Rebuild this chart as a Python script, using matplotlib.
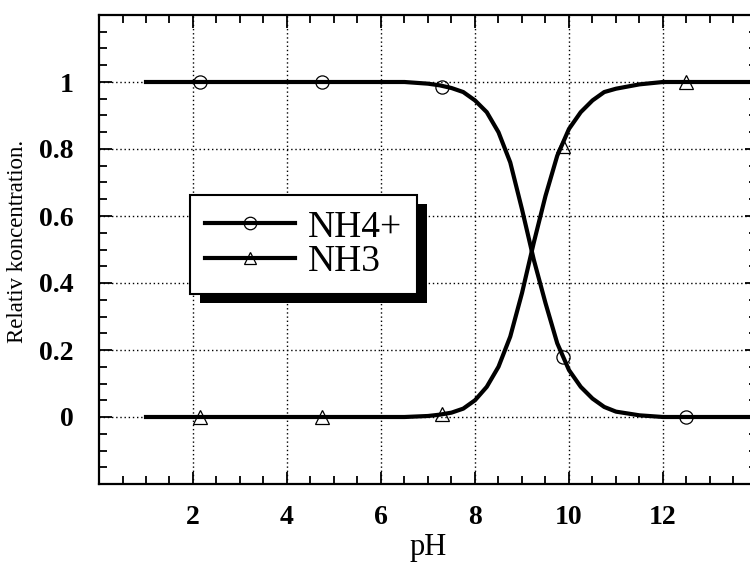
import numpy as np
import matplotlib
matplotlib.use('Agg')
import matplotlib.pyplot as plt
from matplotlib.patches import Rectangle
from matplotlib.ticker import MultipleLocator

# values
ph = [1, 2, 3, 4, 5, 6, 6.5, 7, 7.25, 7.5, 7.75, 8, 8.25, 8.5, 8.75, 9, 9.25,
      9.5, 9.75, 10, 10.25, 10.5, 10.75, 11, 11.5, 12, 13, 14]
nh4 = [1, 1, 1, 1, 1, 1, 1, 0.995, 0.99, 0.982, 0.97, 0.945, 0.91, 0.85, 0.76,
       0.62, 0.47, 0.34, 0.22, 0.14, 0.09, 0.055, 0.03, 0.016, 0.005, 0, 0, 0]
nh3 = [0, 0, 0, 0, 0, 0, 0, 0.003, 0.007, 0.013, 0.025, 0.05, 0.09, 0.15, 0.24,
       0.37, 0.52, 0.66, 0.78, 0.86, 0.91, 0.945, 0.97, 0.98, 0.993, 1, 1, 1]

marker_ph = [2.15, 4.75, 7.3, 9.87, 12.5]
marker_nh4 = [1, 1, 0.985, 0.18, 0]
marker_nh3 = [0, 0, 0.01, 0.81, 1]

serif = ['Liberation Serif', 'DejaVu Serif']

fig = plt.figure(figsize=(7.5, 5.62), dpi=100)
ax = fig.add_axes([99 / 750, 78 / 562, 658 / 750, 469 / 562])

ax.plot(ph, nh4, color='black', lw=3, zorder=3)
ax.plot(ph, nh3, color='black', lw=3, zorder=3)
ax.plot(marker_ph, marker_nh4, ls='none', marker='o', ms=9.5,
        mfc='none', mec='black', mew=0.9, zorder=4)
ax.plot(marker_ph, marker_nh3, ls='none', marker='^', ms=9.5,
        mfc='none', mec='black', mew=0.9, zorder=4)

# legend handles
h1, = ax.plot([], [], color='black', lw=3, marker='o', ms=9,
              mfc='none', mec='black', mew=0.9)
h2, = ax.plot([], [], color='black', lw=3, marker='^', ms=9,
              mfc='none', mec='black', mew=0.9)

ax.set_xlim(0, 14)
ax.set_ylim(-0.2, 1.2)
ax.xaxis.set_minor_locator(MultipleLocator(0.5))
ax.yaxis.set_minor_locator(MultipleLocator(0.05))
ax.set_xticks([2, 4, 6, 8, 10, 12])
ax.set_xticklabels(['2', '4', '6', '8', '10', '12'])
ax.set_yticks([0, 0.2, 0.4, 0.6, 0.8, 1])
ax.set_yticklabels(['0', '0.2', '0.4', '0.6', '0.8', '1'])

ax.tick_params(which='both', direction='in', top=True, right=True,
               width=1.3, color='black')
ax.tick_params(which='major', length=9)
ax.tick_params(which='minor', length=6)
ax.tick_params(axis='x', which='major', pad=15)
ax.tick_params(axis='y', which='major', pad=18)
for lab in ax.get_xticklabels() + ax.get_yticklabels():
    lab.set_fontfamily(serif)
    lab.set_fontweight('bold')
    lab.set_fontsize(20)

ax.grid(True, which='major', color='black', ls=(0, (1, 2)), lw=1)
for s in ax.spines.values():
    s.set_linewidth(1.6)

ax.set_xlabel('pH', fontsize=22, family=serif)
ax.xaxis.set_label_coords(0.5, -0.105)
ax.set_ylabel('Relativ koncentration.', fontsize=16.5, family=serif)
ax.yaxis.set_label_coords(-0.108, 0.518)

leg = ax.legend([h1, h2], ['NH4+', 'NH3'], loc='upper left',
                bbox_to_anchor=(0.138, 0.616), borderaxespad=0,
                prop={'family': serif, 'size': 27}, handlelength=2.4,
                handletextpad=0.35, labelspacing=0.0, borderpad=0.4,
                fancybox=False, framealpha=1, edgecolor='black')
leg.get_frame().set_linewidth(1.5)
leg.set_zorder(6)

# thick black drop shadow of the legend box
fig.canvas.draw()
bb = leg.get_window_extent()
shadow = Rectangle((bb.x0 + 10, bb.y0 - 9), bb.width, bb.height,
                   transform=None, facecolor='black', edgecolor='none',
                   zorder=5.5)
ax.add_artist(shadow)

fig.savefig('out.png', dpi=100)
